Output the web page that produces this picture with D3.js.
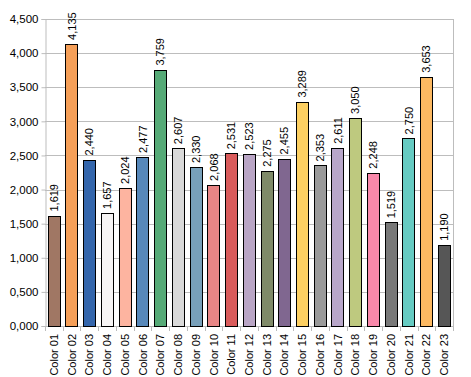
<!DOCTYPE html>
<html>
<head>
<meta charset="utf-8">
<script src="https://cdn.jsdelivr.net/npm/d3@7"></script>
<style>
  body { margin: 0; background: #fff; }
  text { font-family: "Liberation Sans", Arial, sans-serif; fill: #000; }
</style>
</head>
<body>
<div class="chart"></div>
<script>
// data
var categories = ["Color 01", "Color 02", "Color 03", "Color 04", "Color 05", "Color 06",
  "Color 07", "Color 08", "Color 09", "Color 10", "Color 11", "Color 12", "Color 13",
  "Color 14", "Color 15", "Color 16", "Color 17", "Color 18", "Color 19", "Color 20",
  "Color 21", "Color 22", "Color 23"];
var values = [1619, 4135, 2440, 1657, 2024, 2477, 3759, 2607, 2330, 2068, 2531, 2523,
  2275, 2455, 3289, 2353, 2611, 3050, 2248, 1519, 2750, 3653, 1190];
var barColors = ["#a07764", "#f59f58", "#3466ac", "#f7f5f5", "#fdb4a0", "#5788ba",
  "#56aa77", "#d9d9d9", "#78a0ba", "#e88585", "#d95b5b", "#b9a5c5", "#7f8a68",
  "#806790", "#fdd062", "#9a9a9a", "#b8a6c9", "#bec97f", "#f988aa", "#787878",
  "#66cbc2", "#fcb962", "#565656"];
var yTicks = [0, 500, 1000, 1500, 2000, 2500, 3000, 3500, 4000, 4500];
var yTickLabels = ["0,000", "0,500", "1,000", "1,500", "2,000", "2,500", "3,000",
  "3,500", "4,000", "4,500"];

var svgWidth = 471;
var svgHeight = 377;
var margin = { top: 19, right: 18, bottom: 51, left: 45 };
var width = svgWidth - margin.left - margin.right;
var height = svgHeight - margin.top - margin.bottom;

var svg = d3.select(".chart")
  .append("svg")
  .attr("width", svgWidth)
  .attr("height", svgHeight);

var chartGroup = svg.append("g")
  .attr("transform", `translate(${margin.left}, ${margin.top})`);

var x = d3.scaleBand()
  .domain(categories)
  .range([0, width])
  .paddingInner(0.3)
  .paddingOuter(0.15);

var y = d3.scaleLinear()
  .domain([0, 4500])
  .range([height, 0]);

// gridlines
chartGroup.selectAll(".grid")
  .data(yTicks)
  .enter()
  .append("line")
  .attr("x1", 0)
  .attr("x2", width)
  .attr("y1", d => Math.round(y(d)) + 0.5)
  .attr("y2", d => Math.round(y(d)) + 0.5)
  .attr("stroke", "#bdbdbd")
  .attr("stroke-width", 1);

// right border
chartGroup.append("line")
  .attr("x1", width + 0.5).attr("x2", width + 0.5)
  .attr("y1", 0).attr("y2", height)
  .attr("stroke", "#bdbdbd");

// y axis
var leftAxis = d3.axisLeft(y)
  .tickValues(yTicks)
  .tickFormat((d, i) => yTickLabels[i])
  .tickSize(4)
  .tickPadding(3);

var yAxisG = chartGroup.append("g")
  .attr("transform", "translate(0.5, 0)")
  .call(leftAxis);
yAxisG.select(".domain").attr("stroke", "#bdbdbd");
yAxisG.selectAll(".tick line").attr("stroke", "#bdbdbd");
yAxisG.selectAll("text")
  .attr("font-size", 11.5)
  .attr("font-family", "Liberation Sans, Arial, sans-serif");

// x axis with boundary ticks
var xAxisG = chartGroup.append("g")
  .attr("transform", `translate(0, ${height})`);
xAxisG.append("line")
  .attr("x1", 0).attr("x2", width)
  .attr("y1", 0.5).attr("y2", 0.5)
  .attr("stroke", "#bdbdbd");
xAxisG.selectAll(".xtick")
  .data(d3.range(categories.length + 1))
  .enter()
  .append("line")
  .attr("x1", i => Math.round(i * x.step()) + 0.5)
  .attr("x2", i => Math.round(i * x.step()) + 0.5)
  .attr("y1", 0)
  .attr("y2", 5)
  .attr("stroke", "#bdbdbd");

xAxisG.selectAll(".xlabel")
  .data(categories)
  .enter()
  .append("text")
  .attr("transform", d => `translate(${x(d) + x.bandwidth() / 2 + 4}, 8) rotate(-90)`)
  .attr("text-anchor", "end")
  .attr("font-size", 11)
  .text(d => d);

// bars
chartGroup.selectAll(".bar")
  .data(values)
  .enter()
  .append("rect")
  .attr("x", (d, i) => Math.round(x(categories[i])) + 0.5)
  .attr("y", d => Math.round(y(d)) + 0.5)
  .attr("width", Math.round(x.bandwidth()))
  .attr("height", d => height - Math.round(y(d)))
  .attr("fill", (d, i) => barColors[i])
  .attr("stroke", "#000")
  .attr("stroke-width", 1);

// value labels
var fmt = d3.format(",");
chartGroup.selectAll(".val")
  .data(values)
  .enter()
  .append("text")
  .attr("transform", (d, i) =>
    `translate(${x(categories[i]) + x.bandwidth() / 2 + 4}, ${y(d) - 4}) rotate(-90)`)
  .attr("text-anchor", "start")
  .attr("font-size", 11)
  .text(d => fmt(d));
</script>
</body>
</html>
